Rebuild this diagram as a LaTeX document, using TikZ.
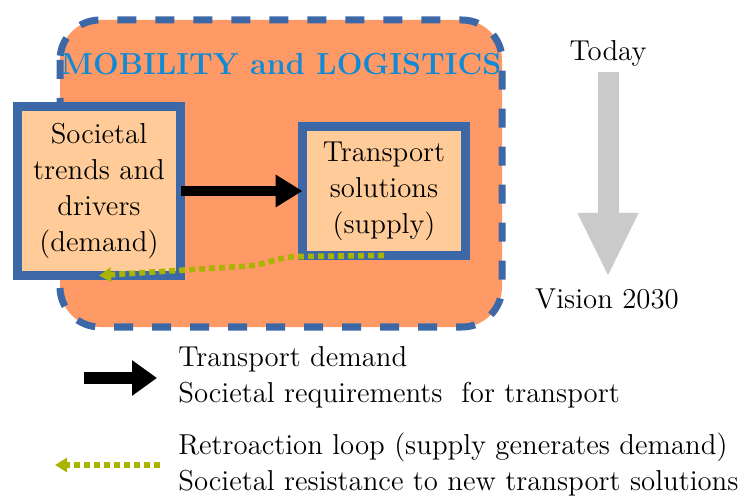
\documentclass[tikz,border=0pt]{standalone}
\usepackage{fontspec}
\usetikzlibrary{arrows.meta}
\definecolor{mlorange}{HTML}{FF9966}
\definecolor{mlpeach}{HTML}{FFCC99}
\definecolor{mlblue}{HTML}{3C68A8}
\definecolor{mltitle}{HTML}{0E8AD6}
\definecolor{mlolive}{HTML}{A8B400}
\definecolor{mlgray}{HTML}{CACACA}
\tikzset{every node/.style={font=\fontsize{14.4}{18}\selectfont},
  box/.style={draw=mlblue,line width=4.5pt,fill=mlpeach,inner sep=0pt,outer sep=0pt,minimum width=81.5pt,align=center},
  demand/.style={line width=5pt,-{Triangle[length=13.5pt,width=15.5pt]}},
  retro/.style={draw=mlolive,line width=2.8pt,dash pattern=on 3pt off 2pt,-{Triangle[length=6pt,width=7pt]}},
  key/.style={anchor=west,align=left,inner sep=0pt}}

\begin{document}
\begin{tikzpicture}[x=0.5pt,y=-0.5pt]
    \useasboundingbox (0,0) rectangle (743,496);
    % mobility and logistics area
    \draw[mlblue,fill=mlorange,line width=3.5pt,dash pattern=on 9.5pt off 9.5pt,rounded corners=20pt] (60,20) rectangle (502,327);
    \node[font=\fontsize{15.2}{18}\selectfont\bfseries,text=mltitle] (title) at (281,64) {MOBILITY and LOGISTICS};
    \node[box,minimum height=84.5pt] (drivers) at (99,191) {Societal\\trends and\\drivers\\(demand)};
    \node[box,minimum height=64.5pt] (supply) at (384,191) {Transport\\solutions\\(supply)};
    \draw[demand] (drivers) -- (supply);
    \draw[retro] (supply.south) -- ++(-84,1) to[out=180,in=0] ++(-60,10) -- (drivers.south);
    % time axis
    \node (today) at (608,53) {Today};
    \node (vision) at (607,299) {Vision 2030};
    \coordinate (t0) at (608,72);
    \coordinate (t1) at (608,277);
    \draw[mlgray,line width=10.5pt,-{Triangle[length=32pt,width=28pt]}] (t0) -- (t1);
    % legend
    \coordinate (k1) at (84,378);
    \coordinate (k2) at (157,378);
    \draw[line width=6pt,-{Triangle[length=12.5pt,width=17pt]}] (k1) -- (k2);
    \node[key] (demandkey) at (178,377) {Transport demand\\Societal requirements\ \ for transport};
    \coordinate (r1) at (160,465);
    \coordinate (r2) at (55,465);
    \draw[retro] (r1) -- (r2);
    \node[key] (retrokey) at (178,464) {Retroaction loop (supply generates demand)\\Societal resistance to new transport solutions};
\end{tikzpicture}
\end{document}
